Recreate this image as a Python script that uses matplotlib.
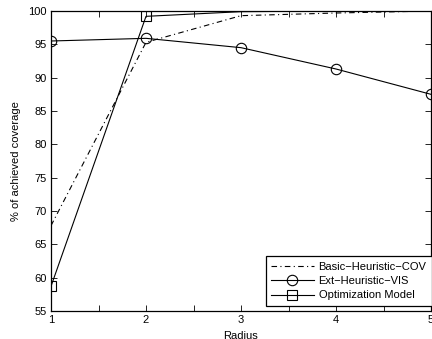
import matplotlib
matplotlib.use("Agg")
import matplotlib.pyplot as plt
from matplotlib.ticker import MultipleLocator

plt.rcParams['font.family'] = ['Liberation Sans', 'DejaVu Sans']

radius = [1, 2, 3, 4, 5]
basic_cov = [67.8, 95.3, 99.3, 99.7, 100.0]
ext_vis = [95.5, 95.9, 94.5, 91.3, 87.5]
opt_model = [58.7, 99.2, 99.9, 100.0, 100.0]

fig = plt.figure(figsize=(4.32, 3.39), dpi=100)
ax = fig.add_axes([51/432, 28/339, 380/432, 300/339])

lw = 0.8
fs = 8
ax.plot(radius, basic_cov, color='black', linestyle=(0, (5, 3, 1, 3)), lw=lw,
        label='Basic\u2212Heuristic\u2212COV')
ax.plot(radius, ext_vis, color='black', lw=lw, marker='o', markersize=7.5,
        markerfacecolor='none', markeredgewidth=0.8, label='Ext\u2212Heuristic\u2212VIS')
# squares sitting on the 100% border are hidden by the frame
ax.plot(radius, opt_model, color='black', lw=lw, marker='s', markersize=6.5,
        markerfacecolor='none', markeredgewidth=0.8, markevery=[0, 1],
        label='Optimization Model')

ax.set_xlim(1, 5)
ax.set_ylim(55, 100)
ax.xaxis.set_major_locator(MultipleLocator(1))
ax.xaxis.set_minor_locator(MultipleLocator(0.5))
ax.yaxis.set_major_locator(MultipleLocator(5))
ax.tick_params(which='both', direction='in', top=True, right=True,
               length=4, width=0.6, labelsize=fs, pad=3)
for s in ax.spines.values():
    s.set_linewidth(0.9)

ax.set_xlabel('Radius', fontsize=fs, labelpad=4)
ax.set_ylabel('% of achieved coverage', fontsize=fs, labelpad=5)

leg = ax.legend(loc='lower right', bbox_to_anchor=(432/432, (339-306)/339),
                bbox_transform=fig.transFigure, fontsize=fs, fancybox=False,
                framealpha=1, edgecolor='black', handlelength=3.8,
                handletextpad=0.45, borderpad=0.5, labelspacing=0.38,
                borderaxespad=0)
leg.get_frame().set_linewidth(0.9)

fig.savefig('out.png', dpi=100)
